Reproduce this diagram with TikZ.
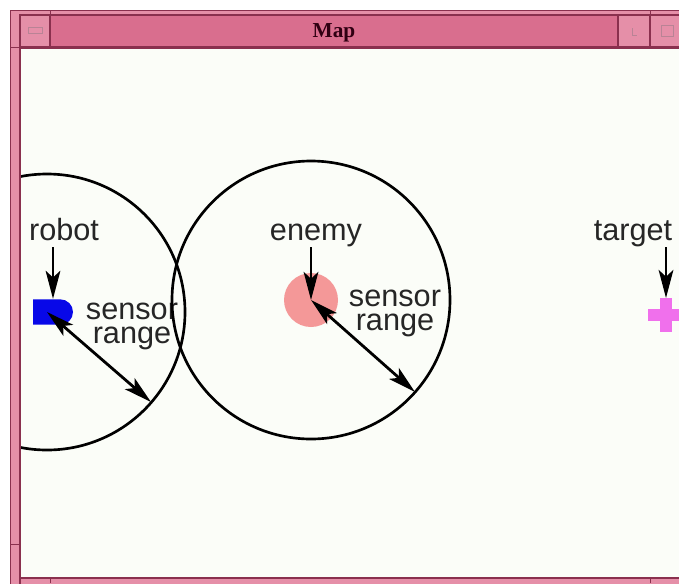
\documentclass[tikz,border=0pt]{standalone}
\usepackage{fontspec}
\setmainfont{Liberation Sans}
\newfontfamily\titlefont{Liberation Serif}
\usetikzlibrary{arrows.meta,shapes.misc}

\definecolor{framepink}{RGB}{229,143,168}
\definecolor{barpink}{RGB}{217,110,142}
\definecolor{frameline}{RGB}{138,48,78}
\definecolor{titleink}{RGB}{48,0,18}
\definecolor{mapbg}{RGB}{251,253,248}
\definecolor{robotblue}{RGB}{8,8,232}
\definecolor{enemyred}{RGB}{244,152,152}
\definecolor{targetpink}{RGB}{240,112,236}

\tikzset{
every picture/.style={line width=0.75pt},
maplabel/.style={font=\fontsize{23}{17.5}\selectfont, text=black!85, inner sep=0pt},
taglabel/.style={maplabel, text depth=0pt, anchor=base},
pointer/.style={line width=2.1pt, shorten <=5pt, -{Stealth[length=21pt,width=11pt,inset=5pt]}},
rangearrow/.style={line width=2.1pt, {Stealth[length=21pt,width=11pt,inset=5pt]}-{Stealth[length=21pt,width=11pt,inset=5pt]}},
rangecircle/.style={line width=2pt}
}

\begin{document}
\begin{tikzpicture}[x=0.75pt,y=0.75pt,yscale=-1,xscale=1]
\useasboundingbox (0,0) rectangle (679,583);
\clip (0,0) rectangle (679,583);
\fill[white] (0,0) rectangle (679,583);

%Window frame
\filldraw[fill=framepink, draw=frameline] (10,10) rectangle (700,600);
\fill[mapbg] (20,48) rectangle (690,578);
\draw[frameline, line width=1.2pt] (20,590) -- (20,48) -- (690,48);
\draw[frameline, line width=1.2pt] (20,578) -- (690,578);
%Title bar and buttons
\filldraw[fill=barpink, draw=frameline, line width=1.2pt] (50,15) rectangle (618,47);
\filldraw[fill=framepink, draw=frameline, line width=1.2pt] (20,15) rectangle (50,47);
\filldraw[fill=framepink, draw=frameline, line width=1.2pt] (618,15) rectangle (650,47);
\filldraw[fill=framepink, draw=frameline, line width=1.2pt] (650,15) rectangle (690,47);
\draw[frameline!60] (28,27) rectangle (42,33);
\draw[frameline!60] (632,28) -- (632,35) -- (637,35);
\draw[frameline!60] (661,25) rectangle (673,36);
%Resize notches
\draw[frameline] (50,10) -- (50,15) (650,10) -- (650,15);
\draw[frameline] (10,47) -- (20,47) (10,544) -- (20,544);
\draw[frameline] (50,578) -- (50,583) (650,578) -- (650,583);

% Text Node
\node[font=\titlefont\bfseries\fontsize{16}{16}\selectfont, text=titleink, anchor=base, inner sep=0pt] (title) at (334,37) {Map};

\begin{scope}
\clip (21,49) rectangle (679,577);

%Shape: robot
\coordinate (robotpos) at (47,312);
\node[rounded rectangle, rounded rectangle west arc=none, fill=robotblue, minimum width=30pt, minimum height=19pt, inner sep=0pt] (robot) at (53,312) {};
%Shape: enemy
\node[circle, fill=enemyred, minimum size=40.5pt, inner sep=0pt] (enemy) at (311,300) {};
%Shape: target
\coordinate (target) at (666,315);
\coordinate (targettop) at (666,298);
\fill[targetpink] (648,309) rectangle (690,321);
\fill[targetpink] (660,298) rectangle (672,332);

% Text Node
\node[taglabel] (robotlabel) at (64,240) {robot};
% Text Node
\node[taglabel] (enemylabel) at (316,240) {enemy};
% Text Node
\node[taglabel] (targetlabel) at (633,240) {target};
% Text Node
\node[maplabel, align=center, anchor=base] (robotrange) at (132,343) {sensor\\range};
% Text Node
\node[maplabel, align=center, anchor=base] (enemyrange) at (395,330) {sensor\\range};

%Sensor circles
\coordinate (robotrim) at (151,402);
\coordinate (enemyrim) at (415,392);
\draw[rangecircle] (robotpos) circle [radius=138];
\draw[rangecircle] (enemy.center) circle [radius=139];

%Arrows
\draw[pointer] (robotlabel.south -| robot.north) -- (robot.north);
\draw[pointer] (enemylabel.south -| enemy.center) -- (enemy.center);
\draw[pointer] (targetlabel.south -| targettop) -- (targettop);
\draw[rangearrow] (robotpos) -- (robotrim);
\draw[rangearrow] (enemy.center) -- (enemyrim);
\end{scope}

\end{tikzpicture}
\end{document}
